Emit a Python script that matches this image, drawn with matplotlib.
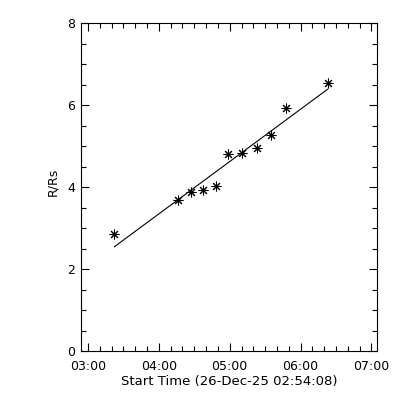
import matplotlib
matplotlib.use("Agg")
import matplotlib.pyplot as plt
import matplotlib.dates as mdates
from datetime import datetime

# Data
times = ["03:22:24", "04:16:06", "04:27:24", "04:37:36", "04:48:06", "04:58:48",
         "05:10:42", "05:23:24", "05:35:18", "05:47:30", "06:22:48"]
r_rs = [2.86, 3.69, 3.88, 3.93, 4.03, 4.82, 4.84, 4.95, 5.27, 5.93, 6.55]
fit_times = ["03:22:24", "06:22:48"]
fit_vals = [2.55, 6.39]
x_start = "02:54:08"
x_end = "07:04:30"
date = "2025-12-26"
xlabel = "Start Time (26-Dec-25 02:54:08)"
ylabel = "R/Rs"

def to_dt(t):
    return datetime.strptime(date + " " + t, "%Y-%m-%d %H:%M:%S")

tx = [to_dt(t) for t in times]
fx = [to_dt(t) for t in fit_times]

plt.rcParams['font.family'] = ['DejaVu Sans']
fig = plt.figure(figsize=(4, 4), dpi=100)
ax = fig.add_axes([0.2025, 0.1218, 0.7395, 0.82])

ax.plot(tx, r_rs, linestyle='none', marker=(8, 2, 0), markersize=7,
        markeredgewidth=0.75, color='black')
ax.plot(fx, fit_vals, color='black', linewidth=0.8)

ax.set_xlim(to_dt(x_start), to_dt(x_end))
ax.set_ylim(0, 8)

ax.xaxis.set_major_locator(mdates.HourLocator())
ax.xaxis.set_minor_locator(mdates.MinuteLocator(byminute=[10, 20, 30, 40, 50]))
ax.xaxis.set_major_formatter(mdates.DateFormatter('%H:%M'))
ax.set_yticks([0, 2, 4, 6, 8])
ax.set_yticks([0.5 * i for i in range(17)], minor=True)

ax.tick_params(which='both', direction='in', top=True, right=True,
               labelsize=9, width=0.8, color='black')
ax.tick_params(which='major', length=6)
ax.tick_params(which='minor', length=3.5)
ax.tick_params(axis='x', pad=6)
ax.tick_params(axis='y', pad=4)

for s in ax.spines.values():
    s.set_linewidth(0.8)

ax.set_xlabel(xlabel, fontsize=9.5, labelpad=2)
ax.set_ylabel(ylabel, fontsize=9)
ax.yaxis.set_label_coords(-0.075, 0.515)

fig.savefig("out.png", dpi=100, facecolor='white')
